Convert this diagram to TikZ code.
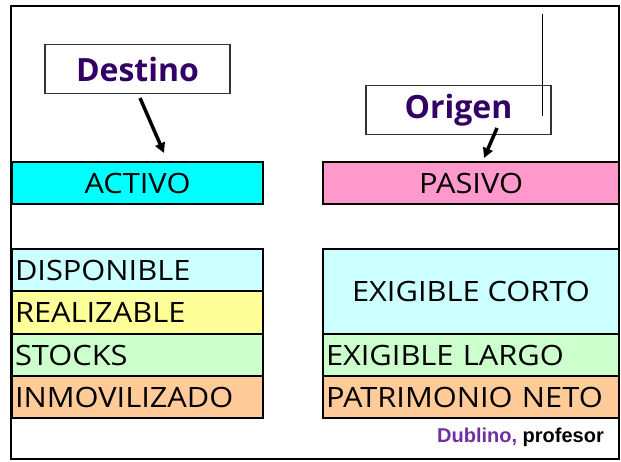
\documentclass[tikz,border=0pt]{standalone}
\usepackage{fontspec}
\setmainfont{Open Sans}
\newfontfamily\boxfont[FakeStretch=1.1]{Open Sans}
\newfontfamily\footfont{Liberation Sans}
\usetikzlibrary{arrows.meta}
\definecolor{titlepurple}{HTML}{330066}
\definecolor{footpurple}{HTML}{7030A0}
\definecolor{activocol}{HTML}{00FFFF}
\definecolor{pasivocol}{HTML}{FF99CC}
\definecolor{lcyan}{HTML}{CCFFFF}
\definecolor{lyellow}{HTML}{FFFF99}
\definecolor{lgreen}{HTML}{CCFFCC}
\definecolor{lorange}{HTML}{FFCC99}
\tikzset{
  tagbox/.style={draw=black!80, line width=1.5pt, fill=white, inner sep=0pt,
    font=\fontsize{32}{36}\selectfont\bfseries, text=titlepurple},
  headbox/.style={draw=black, line width=2.5pt, inner sep=0pt,
    font=\boxfont\fontsize{28}{32}\selectfont},
  stackbox/.style={draw=black, line width=2.5pt, inner ysep=0pt, inner xsep=3pt,
    align=left, font=\boxfont\fontsize{28}{32}\selectfont},
  bigarrow/.style={line width=3.5pt, -{Triangle[length=10pt,width=10pt]}},
}
\begin{document}
\begin{tikzpicture}[x=1pt,y=-1pt]
\useasboundingbox (0,0) rectangle (621,461);
% outer frame
\draw[line width=2pt] (11,6) rectangle (619,459);
% title boxes
\node[tagbox, minimum width=185pt, minimum height=49pt] (dest) at (137.5,69) {Destino};
\node[tagbox, minimum width=185pt, minimum height=49pt] (orig) at (458.5,110) {Origen};
\draw[line width=0.8pt] (542,14) -- (542,116);
% headers
\node[headbox, fill=activocol, minimum width=251pt, minimum height=42pt] (act) at (137.5,183) {ACTIVO};
\node[headbox, fill=pasivocol, minimum width=296pt, minimum height=42pt] (pas) at (471,183) {PASIVO};
% arrows
\coordinate (d1) at (140,98);
\coordinate (d2) at (164,153);
\coordinate (o1) at (497,128);
\coordinate (o2) at (484,158);
\draw[bigarrow] (d1) -- (d2);
\draw[bigarrow] (o1) -- (o2);
% left stack
\node[stackbox, fill=lcyan, text width=245pt, minimum height=42pt] (disp) at (137.5,270) {DISPONIBLE};
\node[stackbox, fill=lyellow, text width=245pt, minimum height=43pt] (real) at (137.5,312.5) {REALIZABLE};
\node[stackbox, fill=lgreen, text width=245pt, minimum height=42pt] (stock) at (137.5,355) {STOCKS};
\node[stackbox, fill=lorange, text width=245pt, minimum height=42pt] (inmov) at (137.5,397) {INMOVILIZADO};
% right stack
\node[headbox, fill=lcyan, minimum width=296pt, minimum height=85pt] (ecorto) at (471,291.5) {EXIGIBLE CORTO};
\node[stackbox, fill=lgreen, text width=290pt, minimum height=42pt] (elargo) at (471,355) {EXIGIBLE LARGO};
\node[stackbox, fill=lorange, text width=290pt, minimum height=42pt] (pneto) at (471,397) {PATRIMONIO NETO};
% footer
\node[anchor=base east, inner sep=0pt, font=\footfont\fontsize{20}{24}\selectfont\bfseries] (foot) at (604,442)
  {\textcolor{footpurple}{Dublino,} profesor};
\end{tikzpicture}
\end{document}
